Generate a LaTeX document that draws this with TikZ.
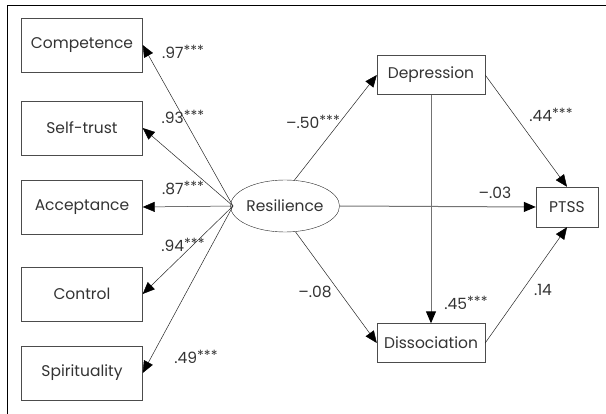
\documentclass[tikz,border=0pt]{standalone}
\usepackage{fontspec}
\setmainfont{Poppins}
\usetikzlibrary{arrows.meta,shapes.geometric}
\newcommand{\stars}{\raisebox{3pt}{\fontsize{14}{14}\selectfont ***}}

\begin{document}
\begin{tikzpicture}[x=1pt, y=-1pt, font=\fontsize{15.5}{18}\selectfont, every node/.style={align=center}]
\tikzset{
  item/.style={draw=black!70, minimum width=121pt, minimum height=54pt, inner sep=0pt, text=black!80},
  factor/.style={draw=black!70, minimum width=108pt, minimum height=39pt, inner sep=0pt, text=black!80},
  latent/.style={draw=black!85, ellipse, minimum width=105pt, minimum height=52pt, inner sep=0pt, text=black!80},
  arr/.style={-{Triangle[length=12pt, width=10pt, black]}, black!85, line width=0.5pt},
  grayarr/.style={arr, black!55, line width=1pt},
  coef/.style={inner sep=1pt, text=black!80}
}
  \useasboundingbox (0,0) rectangle (606,414);
  \draw[line width=0.8pt] (7,414) -- (7,5) -- (606,5);

  \node[item] (comp) at (82,45) {Competence};
  \node[item] (self) at (82,128) {Self-trust};
  \node[item] (acc) at (82,207) {Acceptance};
  \node[item] (ctrl) at (82,294) {Control};
  \node[item] (spir) at (82,373) {Spirituality};

  \node[latent] (res) at (285,206) {Resilience};
  \coordinate (resw) at (233,206);

  \node[factor] (dep) at (431,75) {Depression};
  \node[factor] (dis) at (431,343) {Dissociation};
  \node[draw=black!70, minimum width=62pt, minimum height=40pt, inner sep=0pt, text=black!80] (ptss) at (567,207) {PTSS};

  \draw[arr] (resw) -- (comp.east);
  \draw[arr] (resw) -- (self.east);
  \draw[arr] (resw) -- (acc.east);
  \draw[arr] (resw) -- (ctrl.east);
  \draw[arr] (resw) -- (spir.east);

  \draw[arr] (res.70) -- (dep.west);
  \draw[grayarr] (res.east) -- (ptss.west);
  \draw[arr] (res.-68) -- (dis.west);
  \draw[arr] (dep.east) -- (ptss.north);
  \draw[grayarr] (dep.south) -- (dis.north);
  \draw[arr] (dis.east) -- (ptss.south);

  \node[coef] (l1) at (183,52) {.97\stars};
  \node[coef] (l2) at (183,117) {.93\stars};
  \node[coef] (l3) at (183,188) {.87\stars};
  \node[coef] (l4) at (183,245) {.94\stars};
  \node[coef] (l5) at (196,357) {.49\stars};
  \node[coef] (l6) at (313,122) {\textendash.50\stars};
  \node[coef] (l7) at (495,193) {\textendash.03};
  \node[coef] (l8) at (551,115) {.44\stars};
  \node[coef] (l9) at (315,292) {\textendash.08};
  \node[coef] (l10) at (466,303) {.45\stars};
  \node[coef] (l11) at (543,290) {.14};
\end{tikzpicture}
\end{document}
